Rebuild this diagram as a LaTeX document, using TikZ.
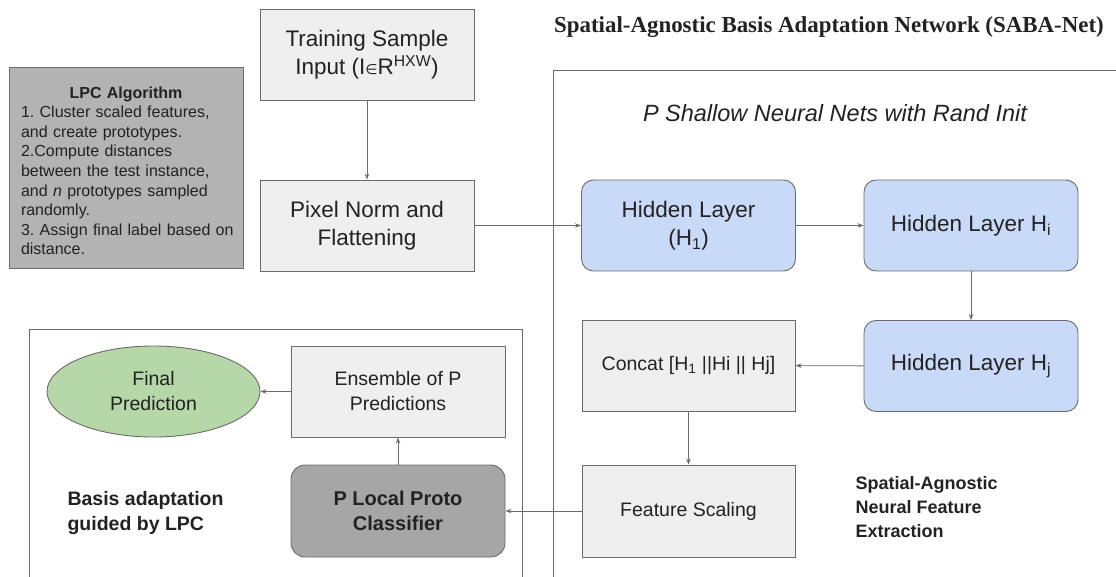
\documentclass[tikz,border=0pt]{standalone}
\usepackage{fontspec}
\setmainfont{Liberation Sans}
\newfontfamily\serifbold{Liberation Serif}
\newfontfamily\symfont{DejaVu Sans}
\usetikzlibrary{arrows.meta,shapes.geometric}
\definecolor{boxgray}{HTML}{EFEFEF}
\definecolor{lpcgray}{HTML}{B3B3B3}
\definecolor{protogray}{HTML}{A6A6A6}
\definecolor{layerblue}{HTML}{C9DAF8}
\definecolor{predgreen}{HTML}{B6D7A8}
\definecolor{edgegray}{HTML}{6B6B6B}
\definecolor{inkgray}{HTML}{222222}
\frenchspacing
\begin{document}
\begin{tikzpicture}[x=1pt,y=-1pt,
  every node/.style={text=inkgray},
  plainbox/.style={draw=edgegray,fill=boxgray,line width=0.9pt,align=center,inner sep=0pt},
  layerbox/.style={draw=edgegray,fill=layerblue,line width=0.9pt,rounded corners=12pt,align=center,inner sep=0pt,minimum width=214pt,minimum height=91pt,font=\fontsize{22.5}{28}\selectfont},
  protobox/.style={draw=edgegray,fill=protogray,line width=0.9pt,rounded corners=14pt,align=center,inner sep=0pt,font=\fontsize{20}{25}\selectfont\bfseries},
  flow/.style={draw=edgegray,line width=0.9pt,-{Stealth[length=6pt,width=4.5pt]}},
  frameline/.style={draw=edgegray,line width=0.9pt}]
\useasboundingbox (0,0) rectangle (1116,577);

\node[font=\serifbold\fontsize{22.9}{27}\selectfont\bfseries] (title) at (829,27) {Spatial-Agnostic Basis Adaptation Network (SABA-Net)};
\draw[frameline] (553,577) -- (553,70) -- (1116,70);
\draw[frameline] (29,577) -- (29,329) -- (522,329) -- (522,577);
\node[font=\fontsize{23.5}{28}\selectfont\itshape] (shallow) at (835,113) {P Shallow Neural Nets with Rand Init};

\node[plainbox,fill=lpcgray,minimum width=234pt,minimum height=201pt,text width=210pt,align=left,font=\fontsize{16}{19.6}\selectfont] (lpc) at (126,167.5)
  {{\centering\bfseries\rule{0pt}{18pt}LPC Algorithm\par}\mbox{1. Cluster scaled features,}\\\mbox{and create prototypes.}\\\mbox{2.Compute distances}\\\mbox{between the test instance,}\\\mbox{and \textit{n} prototypes sampled}\\\mbox{randomly.}\\\mbox{3. Assign final label based on}\\\mbox{distance.}};

\node[plainbox,minimum width=214pt,minimum height=91pt,font=\fontsize{22.5}{28}\selectfont] (train) at (367,54.5) {Training Sample\\Input (I{\symfont\fontsize{14}{14}\selectfont ∈}R\textsuperscript{HXW})};
\node[plainbox,minimum width=214pt,minimum height=91pt,font=\fontsize{22.5}{28}\selectfont] (pixnorm) at (367,225.5) {Pixel Norm and\\Flattening};

\node[layerbox] (hone) at (688.5,225.5) {Hidden Layer\\(H\textsubscript{1})};
\node[layerbox] (hi) at (971,225.5) {Hidden Layer H\textsubscript{i}};
\node[layerbox] (hj) at (971,366) {Hidden Layer H\textsubscript{j}};
\node[plainbox,minimum width=213pt,minimum height=91pt,font=\fontsize{19.5}{25}\selectfont] (concat) at (688.5,365.5) {Concat [H\textsubscript{1} ||Hi || Hj]};
\node[plainbox,minimum width=213pt,minimum height=92pt,font=\fontsize{19.5}{25}\selectfont] (fscale) at (688.5,511) {Feature Scaling};
\node[anchor=west,align=left,font=\fontsize{18}{24}\selectfont\bfseries] (sanfe) at (852,507) {Spatial-Agnostic\\Neural Feature\\Extraction};

\node[protobox,minimum width=214pt,minimum height=92pt] (proto) at (398,511) {P Local Proto\\Classifier};
\node[plainbox,minimum width=214pt,minimum height=91pt,font=\fontsize{19.5}{25}\selectfont] (ensemble) at (398,391.5) {Ensemble of P\\Predictions};
\node[ellipse,draw=edgegray,fill=predgreen,line width=0.9pt,inner sep=0pt,minimum width=213pt,minimum height=91pt,align=center,font=\fontsize{19.5}{25}\selectfont] (finalpred) at (153.5,391.5) {Final\\Prediction};
\node[anchor=west,align=left,font=\fontsize{19.5}{25}\selectfont\bfseries] (basis) at (64,513) {Basis adaptation\\guided by LPC};

\draw[flow] (train) -- (pixnorm);
\draw[flow] (pixnorm) -- (hone);
\draw[flow] (hone) -- (hi);
\draw[flow] (hi) -- (hj);
\draw[flow] (hj) -- (concat);
\draw[flow] (concat) -- (fscale);
\draw[flow] (fscale) -- (proto);
\draw[flow] (proto) -- (ensemble);
\draw[flow] (ensemble) -- (finalpred);
\end{tikzpicture}
\end{document}
